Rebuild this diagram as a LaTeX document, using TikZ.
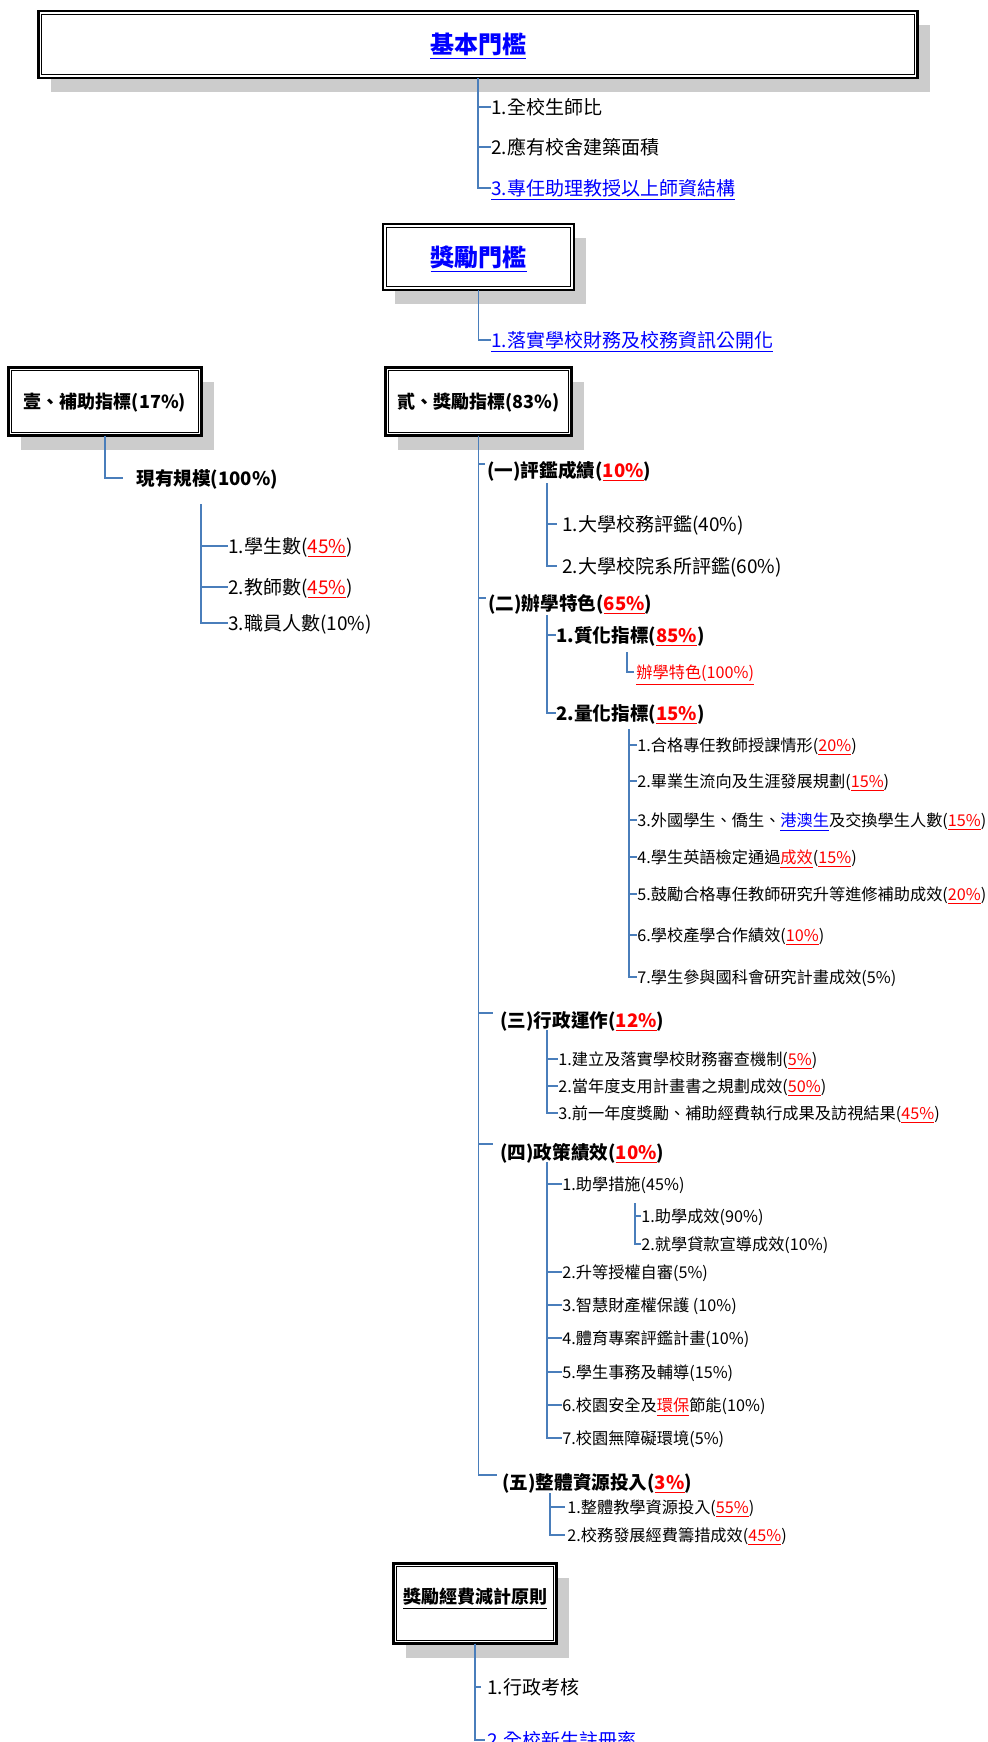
\documentclass[tikz,border=0pt]{standalone}
\usepackage{fontspec}
\setmainfont{Noto Sans CJK TC}
\usepackage{tikz}
\usetikzlibrary{shadows}
\definecolor{linecol}{RGB}{74,126,187}
\definecolor{shadecol}{RGB}{204,204,204}
\definecolor{pctred}{RGB}{255,0,0}
\definecolor{lnkblue}{RGB}{0,0,255}
\newcommand{\pct}[1]{\textcolor{pctred}{\underline{#1}}}
\newcommand{\lnk}[1]{\textcolor{lnkblue}{\underline{#1}}}
\tikzstyle{box}=[draw, line width=1.2pt, fill=white, inner sep=0pt, outer sep=0pt, text height=8.3pt, text depth=1.5pt, font=\fontsize{9}{11}\selectfont\bfseries, drop shadow={shadow xshift=6pt, shadow yshift=-7pt, fill=shadecol, opacity=1}]
\tikzstyle{bigbox}=[box, text height=10.5pt, text depth=1.4pt, font=\fontsize{12}{14}\selectfont\bfseries]
\tikzstyle{inbox}=[draw, line width=0.45pt]
\tikzstyle{item}=[anchor=west, inner sep=0pt, text height=8.8pt, text depth=1.6pt, font=\fontsize{9.5}{11.5}\selectfont]
\tikzstyle{small}=[anchor=west, inner sep=0pt, text height=7.5pt, text depth=1.35pt, font=\fontsize{8.1}{9.7}\selectfont]
\tikzstyle{head}=[item, font=\fontsize{9.3}{11.3}\selectfont\bfseries]
\tikzstyle{conn}=[draw=linecol, line width=0.75pt, to path={|- (\tikztotarget) \tikztonodes}]

\begin{document}
\begin{tikzpicture}[x=0.5pt, y=-0.5pt]
		   \useasboundingbox (0, 0) rectangle (988, 1742);
		   \begin{scope}
			   \node (b1) at (478, 44.5)[bigbox, minimum width=439.5pt, minimum height=33.5pt] {\lnk{基本門檻}};
			   \node (b2) at (478.5, 257)[bigbox, minimum width=95.5pt, minimum height=33pt] {\lnk{獎勵門檻}};
			   \node (b3) at (105, 401.5)[box, minimum width=96.5pt, minimum height=34pt] {壹、補助指標(17\%)};
			   \node (b4) at (478.5, 401.5)[box, minimum width=93pt, minimum height=34pt] {貳、獎勵指標(83\%)};
			   \node (b5) at (475, 1603.5)[box, text depth=8pt, minimum width=81.5pt, minimum height=40pt] {\underline{獎勵經費減計原則}};
			   \foreach \b in {b1, b2, b3, b4, b5}
				   \draw [inbox] ([shift={(3.3, 3.3)}]\b.north west) rectangle ([shift={(-3.3, -3.3)}]\b.south east);
		   \end{scope}
		   \begin{scope}
			   \node (t1) at (491, 107)[item] {1.全校生師比};
			   \node (t2) at (491, 147)[item] {2.應有校舍建築面積};
			   \node (t3) at (491, 188)[item] {\lnk{3.專任助理教授以上師資結構}};
			   \node (t4) at (491, 340)[item] {\lnk{1.落實學校財務及校務資訊公開化}};
			   \node (t5) at (136, 478)[head] {現有規模(100\%)};
			   \coordinate (c1) at (201, 504);
			   \node (t6) at (228, 546)[item] {1.學生數(\pct{45\%})};
			   \node (t7) at (228, 587)[item] {2.教師數(\pct{45\%})};
			   \node (t8) at (228, 623)[item] {3.職員人數(10\%)};
		   \end{scope}
		   \begin{scope}
			   \node (h1) at (487, 470)[head] {(一)評鑑成績(\pct{10\%})};
			   \node (h2) at (488, 603)[head] {(二)辦學特色(\pct{65\%})};
			   \node (h3) at (500, 1020)[head] {(三)行政運作(\pct{12\%})};
			   \node (h4) at (500, 1152)[head] {(四)政策績效(\pct{10\%})};
			   \node (h5) at (502, 1482)[head] {(五)整體資源投入(\pct{3\%})};
			   % (一)
			   \coordinate (c2) at (547, 483);
			   \node (s1) at (562, 524)[item] {1.大學校務評鑑(40\%)};
			   \node (s2) at (562, 566)[item] {2.大學校院系所評鑑(60\%)};
			   % (二)
			   \coordinate (c3) at (547, 615);
			   \node (s3) at (556, 635)[head] {1.質化指標(\pct{85\%})};
			   \node (s4) at (556, 713)[head] {2.量化指標(\pct{15\%})};
			   \coordinate (c4) at (627, 652);
			   \node (q1) at (636, 672)[small] {\pct{辦學特色(100\%)}};
			   \coordinate (c5) at (629, 729);
			   \node (q2) at (637, 745)[small] {1.合格專任教師授課情形(\pct{20\%})};
			   \node (q3) at (637, 781)[small] {2.畢業生流向及生涯發展規劃(\pct{15\%})};
			   \node (q4) at (637, 820)[small] {3.外國學生、僑生、\lnk{港澳生}及交換學生人數(\pct{15\%})};
			   \node (q5) at (637, 857)[small] {4.學生英語檢定通過\pct{成效}(\pct{15\%})};
			   \node (q6) at (637, 894)[small] {5.鼓勵合格專任教師研究升等進修補助成效(\pct{20\%})};
			   \node (q7) at (637, 935)[small] {6.學校產學合作績效(\pct{10\%})};
			   \node (q8) at (637, 977)[small] {7.學生參與國科會研究計畫成效(5\%)};
			   % (三)
			   \coordinate (c6) at (547, 1030);
			   \node (r1) at (558, 1059)[small] {1.建立及落實學校財務審查機制(\pct{5\%})};
			   \node (r2) at (558, 1086)[small] {2.當年度支用計畫書之規劃成效(\pct{50\%})};
			   \node (r3) at (558, 1113)[small] {3.前一年度獎勵、補助經費執行成果及訪視結果(\pct{45\%})};
			   % (四)
			   \coordinate (c7) at (547, 1162);
			   \node (p1) at (562, 1184)[small] {1.助學措施(45\%)};
			   \coordinate (c8) at (635, 1203);
			   \node (p8) at (641, 1216)[small] {1.助學成效(90\%)};
			   \node (p9) at (641, 1244)[small] {2.就學貸款宣導成效(10\%)};
			   \node (p2) at (562, 1272)[small] {2.升等授權自審(5\%)};
			   \node (p3) at (562, 1305)[small] {3.智慧財產權保護 (10\%)};
			   \node (p4) at (562, 1338)[small] {4.體育專案評鑑計畫(10\%)};
			   \node (p5) at (562, 1372)[small] {5.學生事務及輔導(15\%)};
			   \node (p6) at (562, 1405)[small] {6.校園安全及\pct{環保}節能(10\%)};
			   \node (p7) at (562, 1438)[small] {7.校園無障礙環境(5\%)};
			   % (五)
			   \coordinate (c9) at (550, 1493);
			   \node (f1) at (567, 1507)[small] {1.整體教學資源投入(\pct{55\%})};
			   \node (f2) at (567, 1535)[small] {2.校務發展經費籌措成效(\pct{45\%})};
			   % bottom
			   \node (g1) at (487, 1687)[item] {1.行政考核};
			   \node (g2) at (487, 1740)[item] {\lnk{2.全校新生註冊率}};
		   \end{scope}
		   \begin{scope}
			   \path [conn] (b1.south) edge (t1.west) edge (t2.west) edge (t3.west);
			   \path [conn] (b2.south) edge (t4.west);
			   \path [conn] (b3.south) edge ([xshift=-6.5pt]t5.west);
			   \path [conn] (c1) edge (t6.west) edge (t7.west) edge (t8.west);
			   \path [conn] (b4.south) edge ([shift={(-2, -6)}]h1.west) edge ([shift={(-2, -5)}]h2.west) edge ([shift={(-7, -7)}]h3.west) edge ([shift={(-7, -8)}]h4.west) edge ([shift={(-5, -7)}]h5.west);
			   \path [conn] (c2) edge ([xshift=-2.5pt]s1.west) edge ([xshift=-2.5pt]s2.west);
			   \path [conn] (c3) edge (s3.west) edge (s4.west);
			   \path [conn] (c4) edge ([xshift=-1pt]q1.west);
			   \path [conn] (c5) edge (q2.west) edge (q3.west) edge (q4.west) edge (q5.west) edge (q6.west) edge (q7.west) edge (q8.west);
			   \path [conn] (c6) edge (r1.west) edge (r2.west) edge (r3.west);
			   \path [conn] (c7) edge (p1.west) edge (p2.west) edge (p3.west) edge (p4.west) edge (p5.west) edge (p6.west) edge (p7.west);
			   \path [conn] (c8) edge (p8.west) edge (p9.west);
			   \path [conn] (c9) edge ([xshift=-1pt]f1.west) edge ([xshift=-1pt]f2.west);
			   \path [conn] (b5.south) edge ([xshift=-3pt]g1.west) edge ([xshift=-1pt]g2.west);
		   \end{scope}
	   \end{tikzpicture}
\end{document}
